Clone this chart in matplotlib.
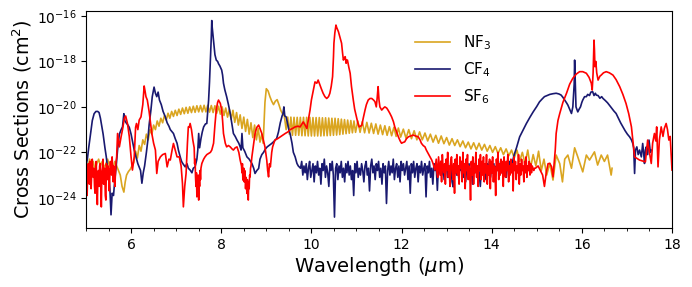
import numpy as np
import matplotlib
matplotlib.use("Agg")
import matplotlib.pyplot as plt
from matplotlib.ticker import MultipleLocator, FixedLocator, NullLocator

# ---------------- data (log10 of cross section, cm^2) ----------------
# NF3
nf3_wl = [5.00, 5.04, 5.08, 5.12, 5.16, 5.20, 5.24, 5.28, 5.32, 5.36, 5.40, 5.44, 5.48, 5.52, 5.56, 5.60, 5.64, 5.68, 5.72, 5.76,
          5.80, 5.84, 5.87, 5.90, 5.94, 5.98, 6.02, 6.06,
          6.10, 6.14, 6.18, 6.22, 6.26, 6.30, 6.34, 6.38, 6.42, 6.46, 6.50, 6.54, 6.58, 6.62, 6.66, 6.70, 6.74, 6.78,
          6.82, 6.86, 6.90, 6.94, 6.98, 7.02, 7.06, 7.10, 7.14, 7.18, 7.22, 7.26, 7.30, 7.34, 7.38, 7.42, 7.46, 7.50,
          7.54, 7.58, 7.62, 7.66, 7.70, 7.74, 7.78, 7.82, 7.86, 7.90, 7.94, 7.98, 8.02, 8.06, 8.10, 8.14, 8.18, 8.22,
          8.26, 8.30, 8.34, 8.38, 8.42, 8.46, 8.50, 8.54, 8.58, 8.62, 8.66, 8.70, 8.74, 8.78, 8.82, 8.86, 8.90, 8.93,
          8.97, 9.00, 9.04, 9.08, 9.12, 9.16, 9.20, 9.24, 9.28, 9.32, 9.36, 9.40, 9.44,
          9.475, 9.51, 9.545, 9.58, 9.615, 9.65, 9.685, 9.72, 9.755, 9.79, 9.825, 9.86, 9.895, 9.93, 9.965, 10.00,
          10.035, 10.07, 10.105, 10.14, 10.175, 10.21, 10.245, 10.28, 10.315, 10.35, 10.385, 10.42, 10.455, 10.49,
          10.525, 10.56, 10.595, 10.63, 10.665, 10.70, 10.735, 10.77, 10.805, 10.84, 10.875, 10.91, 10.945, 10.98,
          11.03, 11.08, 11.13, 11.18, 11.23, 11.28, 11.33, 11.38, 11.43, 11.48, 11.53, 11.58, 11.63, 11.68, 11.73,
          11.78, 11.83, 11.88, 11.93, 11.98,
          12.04, 12.10, 12.16, 12.22, 12.28, 12.34, 12.40, 12.46, 12.52, 12.58, 12.64, 12.70, 12.76, 12.82, 12.88,
          12.94, 13.00, 13.06, 13.12, 13.18, 13.24, 13.30, 13.36, 13.42, 13.48, 13.54, 13.60, 13.66, 13.72, 13.78,
          13.84, 13.90, 13.96, 14.02, 14.08, 14.14, 14.20, 14.26, 14.32, 14.38, 14.44, 14.50,
          14.56, 14.62, 14.68, 14.74, 14.80, 14.86, 14.92, 14.98, 15.04, 15.10, 15.16, 15.22, 15.29, 15.36, 15.43,
          15.51, 15.57, 15.62, 15.69, 15.77, 15.84, 15.91, 16.02, 16.10, 16.17, 16.28, 16.35, 16.43, 16.50, 16.57,
          16.61, 16.65, 16.67]
nf3_log = [-22.4, -22.7, -22.3, -22.6, -22.4, -22.8, -22.5, -22.3, -22.6, -22.4, -22.7, -22.5, -22.3, -22.6, -22.5, -22.7, -22.4, -22.6, -22.8, -23.0,
           -23.5, -23.75, -23.3, -23.0, -22.85, -22.75, -22.6, -22.45,
           -21.95, -22.25, -21.7, -21.95, -21.45, -21.65, -21.2, -21.45, -21.0, -21.2, -20.8, -21.0, -20.62, -20.85, -20.5, -20.7, -20.38, -20.58,
           -20.28, -20.5, -20.2, -20.42, -20.15, -20.38, -20.1, -20.33, -20.05, -20.3, -20.02, -20.28, -20.0, -20.25, -19.97, -20.24, -19.95, -20.22,
           -19.94, -20.22, -19.93, -20.22, -19.93, -20.23, -19.94, -20.25, -19.95, -20.28, -19.97, -20.32, -20.0, -20.38, -20.05, -20.45, -20.1, -20.55,
           -20.15, -20.68, -20.25, -20.8, -20.35, -20.95, -20.45, -21.08, -20.55, -21.2, -20.7, -21.35, -20.8, -21.45, -20.95, -21.55, -21.2, -21.6,
           -19.8, -19.2, -19.3, -19.55, -19.75, -19.9, -19.75, -19.68, -19.9, -20.15, -20.3, -20.4, -21.0,
           -20.45, -21.2, -20.45, -21.25, -20.46, -21.25, -20.46, -21.25, -20.46, -21.27, -20.46, -21.27, -20.46, -21.28, -20.46, -21.28,
           -20.47, -21.28, -20.47, -21.28, -20.47, -21.28, -20.48, -21.27, -20.48, -21.27, -20.49, -21.26, -20.5, -21.25,
           -20.5, -21.24, -20.52, -21.22, -20.54, -21.2, -20.56, -21.18, -20.58, -21.16, -20.6, -21.14, -20.62, -21.12,
           -20.62, -21.12, -20.65, -21.14, -20.68, -21.15, -20.72, -21.17, -20.75, -21.2, -20.8, -21.22, -20.83, -21.25, -20.87,
           -21.27, -20.9, -21.3, -20.93, -21.33,
           -20.98, -21.38, -21.0, -21.4, -21.05, -21.45, -21.1, -21.45, -21.15, -21.5, -21.2, -21.55, -21.25, -21.6, -21.28,
           -21.62, -21.35, -21.68, -21.4, -21.7, -21.45, -21.75, -21.5, -21.8, -21.55, -21.85, -21.58, -21.88, -21.6, -21.9,
           -21.65, -21.95, -21.7, -22.0, -21.75, -22.05, -21.8, -22.1, -21.85, -22.15, -21.9, -22.25,
           -21.9, -22.4, -22.0, -22.5, -21.9, -22.7, -22.1, -22.6, -21.95, -22.8, -22.3, -23.0, -22.48, -23.22, -22.12,
           -22.5, -23.3, -22.3, -22.12, -22.7, -21.8, -22.2, -22.86, -22.12, -22.34, -21.98, -22.56, -22.12, -22.4, -22.12,
           -22.56, -23.0, -22.7]

# CF4: band part 1 (5.0 - 9.75 um)
cf4_wl_a = [5.00, 5.03, 5.06, 5.10, 5.14, 5.18, 5.22, 5.26, 5.29, 5.32, 5.35, 5.38, 5.42, 5.45, 5.48, 5.51, 5.53, 5.555,
            5.58, 5.61, 5.64, 5.67, 5.70, 5.74, 5.78, 5.81, 5.84, 5.86, 5.89, 5.93, 5.96, 6.00, 6.03, 6.07, 6.11, 6.15,
            6.18, 6.21, 6.24, 6.27, 6.30, 6.34, 6.37, 6.40, 6.44, 6.47, 6.51, 6.54, 6.57, 6.60, 6.63, 6.67, 6.71, 6.76,
            6.80, 6.84, 6.87, 6.91, 6.94, 6.98, 7.02, 7.05, 7.09, 7.12, 7.15, 7.20, 7.24, 7.27, 7.31, 7.35, 7.38, 7.42,
            7.46, 7.48, 7.50, 7.52, 7.55, 7.58, 7.61, 7.65, 7.68, 7.70, 7.72, 7.74, 7.76, 7.78, 7.79, 7.80, 7.82, 7.84,
            7.86, 7.89, 7.92, 7.94, 7.97, 8.01, 8.03, 8.05, 8.08, 8.12, 8.16, 8.20, 8.24, 8.27, 8.31, 8.35, 8.39, 8.42,
            8.44, 8.46, 8.48, 8.52, 8.57, 8.62, 8.68, 8.72, 8.75, 8.79, 8.83, 8.86, 8.90, 8.94, 8.98, 9.02, 9.06, 9.12,
            9.18, 9.23, 9.27, 9.31, 9.35, 9.37, 9.39, 9.41, 9.44, 9.47, 9.50, 9.53, 9.57, 9.60, 9.64, 9.68, 9.71]
cf4_log_a = [-22.6, -22.3, -21.8, -21.2, -20.6, -20.3, -20.2, -20.2, -20.25, -20.5, -20.85, -21.2, -21.8, -22.2, -22.7, -23.1, -23.6, -24.75,
             -23.8, -23.9, -23.2, -22.6, -21.9, -21.2, -21.0, -20.88, -20.3, -20.6, -20.7, -20.8, -20.9, -21.2, -21.5, -21.9, -22.2, -22.5,
             -22.65, -22.8, -23.36, -22.9, -22.6, -22.0, -21.5, -20.8, -20.14, -19.55, -19.13, -19.4, -19.55, -19.35, -19.7, -19.9, -20.2, -20.44,
             -20.7, -20.85, -21.0, -21.1, -21.17, -21.4, -21.6, -21.9, -22.2, -22.4, -22.5, -22.64, -22.5, -22.7, -22.78, -22.9, -22.7, -22.64,
             -22.3, -21.9, -21.17, -21.8, -21.4, -21.1, -20.88, -20.75, -20.73, -20.2, -19.7, -18.9, -17.94, -16.9, -16.2, -16.5, -16.9, -17.3,
             -17.7, -17.94, -18.0, -18.1, -18.2, -18.38, -18.6, -18.96, -19.25, -19.55, -19.9, -20.29, -20.8, -21.17, -21.3, -21.46, -21.6, -21.76,
             -21.9, -21.17, -21.8, -21.95, -22.2, -22.3, -22.49, -22.7, -22.93, -22.8, -22.71, -22.3, -22.1, -22.0, -21.85, -21.76, -21.7, -21.61,
             -21.5, -21.39, -21.1, -20.7, -20.4, -20.3, -20.0, -20.4, -20.44, -20.73, -21.0, -21.2, -21.6, -22.0, -22.2, -22.49, -22.6]
# CF4: noisy floor, sampled evenly from 9.76 to 14.50 um
cf4_noise_range = (9.76, 14.50)
cf4_noise_log = [-22.7, -22.4, -23.0, -22.6, -22.9, -22.5, -23.2, -22.7, -22.4, -23.1,
                 -22.8, -22.5, -23.3, -22.6, -22.9, -22.4, -23.0, -22.7, -23.4, -22.5,
                 -22.8, -22.3, -23.1, -22.6, -22.9, -23.5, -22.5, -22.8, -22.4, -23.0,
                 -24.85, -22.7, -22.5, -23.2, -22.6, -22.9, -22.4, -23.1, -22.7, -23.3,
                 -22.5, -22.9, -22.4, -23.0, -22.6, -23.2, -22.8, -23.9, -22.5, -22.9,
                 -22.4, -23.1, -22.7, -23.0, -22.5, -22.8, -23.3, -22.6, -22.4, -23.0,
                 -22.7, -23.7, -22.6, -22.3, -22.9, -22.6, -23.2, -22.5, -22.8, -22.4,
                 -23.1, -22.7, -23.4, -22.5, -22.9, -22.6, -24.25, -22.8, -22.4, -23.0,
                 -22.6, -22.9, -22.3, -23.2, -22.7, -22.5, -23.1, -22.6, -23.3, -22.4,
                 -22.8, -22.5, -23.0, -22.7, -22.4, -23.2, -22.6, -23.8, -22.5, -22.9,
                 -22.4, -23.1, -22.7, -22.5, -23.3, -22.6, -22.9, -22.4, -23.0, -22.7,
                 -22.5, -23.96, -22.6, -22.9, -22.4, -23.1, -22.7, -23.4, -22.5, -22.8,
                 -22.6, -23.67, -22.5, -22.9, -22.4, -23.0, -22.6, -23.2, -22.7, -22.5,
                 -23.1, -22.6, -22.9, -22.4, -23.3, -23.52, -22.7, -22.5, -23.0, -22.6,
                 -23.2, -22.5, -22.8, -22.4, -23.1, -22.7, -23.3, -22.6, -22.9, -22.5,
                 -23.0, -22.7, -23.4, -22.5, -22.8, -22.4, -23.1, -22.6, -22.9, -23.5,
                 -22.6, -22.4, -23.0, -22.7, -23.2, -22.5, -22.8, -22.4, -23.1, -22.6,
                 -22.9, -22.5, -23.3, -22.6, -22.8, -22.4, -23.0, -22.6, -22.9, -22.5,
                 -22.8, -22.6, -23.1, -22.5, -22.7, -22.4, -22.8, -22.5, -22.3, -22.1]
# CF4: band part 2 (14.55 - 17.54 um)
cf4_wl_b = [14.55, 14.62, 14.70, 14.77, 14.85, 14.92, 15.00, 15.06, 15.12, 15.17, 15.23, 15.29, 15.36, 15.43, 15.49,
            15.54, 15.58, 15.62, 15.66, 15.69, 15.73, 15.77, 15.80, 15.83, 15.84, 15.855, 15.87, 15.91, 15.94, 15.97,
            16.00, 16.02, 16.06, 16.10, 16.13, 16.17, 16.20, 16.24, 16.27, 16.30, 16.32, 16.36, 16.40, 16.44, 16.47,
            16.52, 16.57, 16.61, 16.66, 16.71, 16.76, 16.81, 16.86, 16.91, 16.96, 17.01, 17.06, 17.10, 17.13, 17.15,
            17.17, 17.19, 17.22, 17.25, 17.28, 17.32, 17.35, 17.37, 17.39, 17.41, 17.43, 17.46, 17.49, 17.52, 17.54]
cf4_log_b = [-21.8, -21.32, -21.0, -20.73, -20.45, -20.22, -19.98, -19.78, -19.65, -19.55, -19.5, -19.45, -19.42, -19.4, -19.43,
             -19.48, -19.58, -19.7, -19.82, -19.92, -20.1, -20.29, -20.0, -19.0, -17.94, -19.0, -20.0, -20.22, -20.1, -20.0,
             -19.8, -19.7, -19.55, -19.55, -19.45, -19.5, -19.35, -19.33, -19.5, -19.4, -19.48, -19.5, -19.62, -19.55, -19.63,
             -19.72, -19.82, -19.92, -20.05, -20.18, -20.29, -20.5, -20.7, -20.88, -21.05, -21.2, -21.32, -21.45, -21.61, -21.8,
             -22.93, -21.9, -21.76, -22.1, -21.9, -22.2, -21.61, -22.0, -22.49, -21.9, -21.76, -22.1, -21.46, -22.0, -21.9]

# SF6: noisy start, sampled evenly from 5.00 to 5.68 um
sf6_noise1_range = (5.00, 5.68)
sf6_noise1_log = [-22.6, -23.4, -23.9, -22.8, -22.5, -23.1, -23.4, -22.4, -22.8, -23.6, -23.0, -22.3, -22.9, -23.1, -22.7,
                  -23.5, -23.8, -22.9, -22.4, -23.3, -24.3, -23.0, -22.8, -23.5, -22.6, -22.5, -23.2, -24.4, -22.9, -22.7,
                  -22.3, -23.4, -22.8, -22.7, -23.9, -24.1, -22.5, -22.9, -23.2, -22.6, -22.8, -23.7, -23.1, -22.4, -22.6,
                  -23.0, -22.2, -22.7, -23.3, -22.6, -22.9, -23.5, -22.8, -22.4, -22.2]
# SF6: band part (5.70 - 12.74 um)
sf6_wl_a = [5.70, 5.74, 5.78, 5.81, 5.85, 5.88, 5.92, 5.96, 6.00, 6.03, 6.07, 6.10, 6.12, 6.15, 6.18, 6.22, 6.26, 6.29,
            6.31, 6.33, 6.36, 6.40, 6.43, 6.46, 6.50, 6.54, 6.57, 6.60, 6.65, 6.70, 6.76, 6.80, 6.84, 6.87, 6.91, 6.94,
            6.98, 7.02, 7.07, 7.11, 7.14, 7.16, 7.19, 7.22, 7.25, 7.27, 7.29, 7.31, 7.34, 7.37, 7.40, 7.41, 7.42, 7.43,
            7.44, 7.45, 7.46, 7.47, 7.48, 7.49, 7.50, 7.51, 7.52, 7.53, 7.54, 7.55, 7.57, 7.61, 7.64, 7.68, 7.72, 7.76,
            7.79, 7.83, 7.86, 7.89, 7.92, 7.94, 7.98, 8.01, 8.03, 8.05, 8.09, 8.12, 8.16, 8.20, 8.24, 8.27, 8.31, 8.35,
            8.39, 8.42, 8.45, 8.46, 8.47, 8.48, 8.49, 8.50, 8.51, 8.52, 8.53, 8.54, 8.55, 8.56, 8.57, 8.58, 8.59, 8.60,
            8.61, 8.62, 8.63, 8.64, 8.65, 8.66, 8.68, 8.72, 8.75, 8.79, 8.83, 8.86, 8.90, 8.94, 8.97, 9.01, 9.03, 9.05,
            9.07, 9.09, 9.12, 9.14, 9.19, 9.25, 9.31, 9.36, 9.42, 9.48, 9.53, 9.58, 9.64, 9.70, 9.75, 9.79, 9.82, 9.86,
            9.90, 9.93, 9.97, 10.00, 10.03, 10.06, 10.08, 10.12, 10.15, 10.19, 10.22, 10.26, 10.30, 10.34, 10.38, 10.41,
            10.44, 10.47, 10.49, 10.50, 10.52, 10.53, 10.545, 10.56, 10.58, 10.60, 10.63, 10.67, 10.69, 10.71, 10.73,
            10.75, 10.77, 10.78, 10.80, 10.83, 10.86, 10.89, 10.93, 10.96, 11.00, 11.03, 11.06, 11.09, 11.12, 11.15,
            11.19, 11.22, 11.26, 11.30, 11.34, 11.38, 11.41, 11.44, 11.46, 11.48, 11.50, 11.52, 11.56, 11.60, 11.63,
            11.67, 11.70, 11.74, 11.78, 11.82, 11.85, 11.89, 11.93, 11.97, 12.00, 12.04, 12.07, 12.11, 12.15, 12.20,
            12.26, 12.31, 12.37, 12.41, 12.44, 12.48, 12.52, 12.55, 12.59, 12.63, 12.67, 12.70, 12.74]
sf6_log_a = [-21.17, -21.76, -21.3, -21.0, -20.5, -20.4, -20.73, -21.3, -22.2, -22.78, -22.2, -20.9, -20.73, -21.0, -20.58, -20.44, -19.9, -19.08,
             -19.3, -19.55, -19.7, -20.2, -20.7, -21.17, -21.6, -21.9, -22.93, -22.4, -22.2, -22.1, -22.05, -22.64, -22.3, -22.34, -21.9, -21.61,
             -21.9, -22.2, -22.2, -22.6, -23.37, -24.4, -23.5, -22.93, -21.6, -20.88, -20.9, -20.73, -21.0, -21.46, -21.8, -22.5, -22.3, -23.1,
             -23.5, -22.9, -23.96, -23.2, -23.6, -23.0, -24.1, -23.1, -23.5, -22.8, -23.2, -22.7, -22.49, -22.3, -22.2, -22.1, -22.05, -22.0,
             -21.9, -21.6, -20.8, -20.14, -19.8, -19.7, -19.85, -20.14, -20.6, -21.17, -21.6, -21.76, -21.7, -21.76, -21.85, -21.9, -21.8, -21.76,
             -22.0, -22.34, -22.6, -22.9, -22.5, -23.22, -22.8, -22.7, -23.3, -22.8, -22.93, -23.6, -23.1, -23.5, -23.81, -23.2, -23.7, -24.1,
             -23.3, -23.6, -23.0, -23.08, -22.7, -22.6, -22.2, -21.6, -21.17, -20.9, -20.8, -20.95, -21.17, -21.5, -21.76, -22.34, -22.8, -23.08,
             -22.5, -22.64, -22.0, -21.76, -21.46, -21.4, -21.32, -21.25, -21.17, -21.1, -21.0, -20.95, -20.88, -20.85, -20.88, -20.75, -20.66, -20.8,
             -20.95, -20.6, -20.14, -19.7, -19.4, -19.1, -18.9, -18.96, -18.82, -19.04, -19.2, -19.4, -19.55, -19.63, -19.55, -19.4,
             -19.1, -18.67, -17.8, -17.2, -16.75, -16.62, -16.4, -16.5, -16.6, -16.69, -16.91, -17.2, -17.6, -17.94, -17.85,
             -17.79, -18.08, -17.94, -17.94, -18.25, -18.52, -19.11, -19.7, -20.1, -20.44, -20.7, -20.88, -20.85, -20.8, -20.5,
             -20.14, -19.9, -19.7, -19.63, -19.63, -19.7, -19.77, -20.0, -19.6, -19.11, -19.7, -20.0, -20.14, -20.05, -20.0,
             -20.05, -20.14, -20.28, -20.44, -20.65, -20.88, -21.1, -21.32, -21.5, -21.6, -21.56, -21.54, -21.4, -21.32, -21.28,
             -21.24, -21.28, -21.32, -21.45, -21.6, -21.7, -21.76, -21.9, -22.05, -22.2, -22.34, -22.5, -22.78]
# SF6: noisy floor, sampled evenly from 12.77 to 14.95 um
sf6_noise2_range = (12.77, 14.95)
sf6_noise2_log = [-22.3, -22.9, -23.1, -22.2, -22.6, -23.0, -22.4, -23.3, -22.1, -22.7,
                  -22.9, -22.5, -23.4, -22.3, -22.8, -22.0, -23.1, -22.6, -23.5, -22.4,
                  -22.2, -22.8, -23.2, -22.5, -23.8, -22.3, -22.9, -22.1, -23.0, -22.6,
                  -23.4, -22.2, -22.7, -22.4, -23.3, -22.0, -22.9, -22.5, -23.6, -22.3,
                  -22.8, -22.1, -23.2, -22.6, -22.9, -24.1, -22.4, -23.0, -22.2, -23.4,
                  -22.5, -22.9, -22.0, -23.1, -22.6, -23.5, -22.3, -22.8, -22.1, -23.2,
                  -22.4, -23.0, -22.2, -23.3, -22.5, -22.9, -22.1, -23.4, -22.6, -23.0,
                  -22.3, -23.6, -22.4, -22.9, -22.2, -23.3, -22.6, -22.7, -23.9, -22.3,
                  -22.8, -22.0, -23.2, -22.5, -23.0, -22.3, -22.9, -22.4, -23.5, -22.2,
                  -22.7, -23.1, -22.4, -22.8, -22.1, -23.3, -22.6, -23.0, -22.3, -22.9,
                  -22.5, -23.7, -22.2, -22.8, -22.4, -23.2, -22.6, -22.9, -22.1, -23.4,
                  -22.5, -23.0, -22.3, -22.8, -22.6, -23.3, -22.4, -22.9, -22.2, -23.1,
                  -22.6, -22.8, -22.4, -23.0, -22.5, -22.9, -22.6, -22.7, -22.8, -22.7]
# SF6: band part (14.97 - 18.0 um)
sf6_wl_b = [14.97, 15.03, 15.08, 15.13, 15.17, 15.21, 15.25, 15.29, 15.33, 15.36, 15.39, 15.41, 15.43, 15.47, 15.51,
            15.58, 15.66, 15.73, 15.80, 15.88, 15.95, 16.02, 16.10, 16.16, 16.21, 16.23, 16.25, 16.27, 16.28, 16.29,
            16.31, 16.33, 16.36, 16.40, 16.43, 16.48, 16.54, 16.61, 16.69, 16.76, 16.84, 16.91, 16.98, 17.04, 17.10,
            17.13, 17.17, 17.28, 17.41, 17.46, 17.50, 17.54, 17.57, 17.61, 17.64, 17.66, 17.69, 17.72, 17.76, 17.80,
            17.83, 17.87, 17.90, 17.93, 17.96, 17.98, 18.00]
sf6_log_b = [-22.7, -22.6, -22.8, -23.0, -23.5, -22.9, -22.5, -22.49, -22.64, -23.08, -22.4, -21.9, -21.17, -20.6, -20.29,
             -19.8, -19.4, -19.0, -18.74, -18.55, -18.45, -18.45, -18.52, -18.7, -18.96, -19.26, -18.5, -17.06, -17.5, -18.23,
             -18.0, -18.5, -18.82, -18.65, -18.6, -18.5, -18.45, -18.5, -18.6, -18.8, -19.11, -19.45, -19.85, -20.3, -20.88,
             -21.46, -22.2, -22.34, -22.42, -21.46, -22.0, -22.49, -21.6, -21.17, -21.5, -20.88, -22.64, -21.46, -20.88, -21.3,
             -20.95, -20.73, -21.0, -21.46, -21.3, -22.05, -22.78]

series_names = ["NF$_3$", "CF$_4$", "SF$_6$"]
series_colors = ["goldenrod", "#191970", "red"]
y_tick_exponents = [-24, -22, -20, -18, -16]


def even_grid(rng, values):
    return np.linspace(rng[0], rng[1], len(values))


nf3_x = np.array(nf3_wl)
nf3_y = np.array(nf3_log)
cf4_x = np.concatenate([cf4_wl_a, even_grid(cf4_noise_range, cf4_noise_log), cf4_wl_b])
cf4_y = np.concatenate([cf4_log_a, cf4_noise_log, cf4_log_b])
sf6_x = np.concatenate([even_grid(sf6_noise1_range, sf6_noise1_log), sf6_wl_a,
                        even_grid(sf6_noise2_range, sf6_noise2_log), sf6_wl_b])
sf6_y = np.concatenate([sf6_noise1_log, sf6_log_a, sf6_noise2_log, sf6_log_b])

# ---------------- figure ----------------
fig = plt.figure(figsize=(6.92, 2.87), dpi=100)
ax = fig.add_axes([86 / 692, 1 - 228 / 287, (672 - 86) / 692, (228 - 11) / 287])

for x, lg, name, col in zip([nf3_x, cf4_x, sf6_x], [nf3_y, cf4_y, sf6_y], series_names, series_colors):
    ax.plot(x, 10.0 ** lg, color=col, lw=1.2, label=name)

ax.set_yscale("log")
ax.set_xlim(5, 18)
ax.set_ylim(10 ** -25.33, 10 ** -15.78)
ax.yaxis.set_major_locator(FixedLocator([10.0 ** e for e in y_tick_exponents]))
ax.yaxis.set_minor_locator(NullLocator())
ax.xaxis.set_major_locator(MultipleLocator(2))
ax.xaxis.set_minor_locator(MultipleLocator(0.5))
ax.tick_params(axis="both", which="major", labelsize=10)
ax.set_xlabel("Wavelength ($\\mu$m)", fontsize=14, labelpad=2)
ax.set_ylabel("Cross Sections (cm$^2$)", fontsize=13.8, labelpad=2)

ax.legend(loc="upper left", bbox_to_anchor=(0.562, 0.897), frameon=False, fontsize=11,
          handlelength=2.3, handletextpad=0.85, labelspacing=0.55, borderpad=0, borderaxespad=0)

fig.savefig("out.png", dpi=100)
